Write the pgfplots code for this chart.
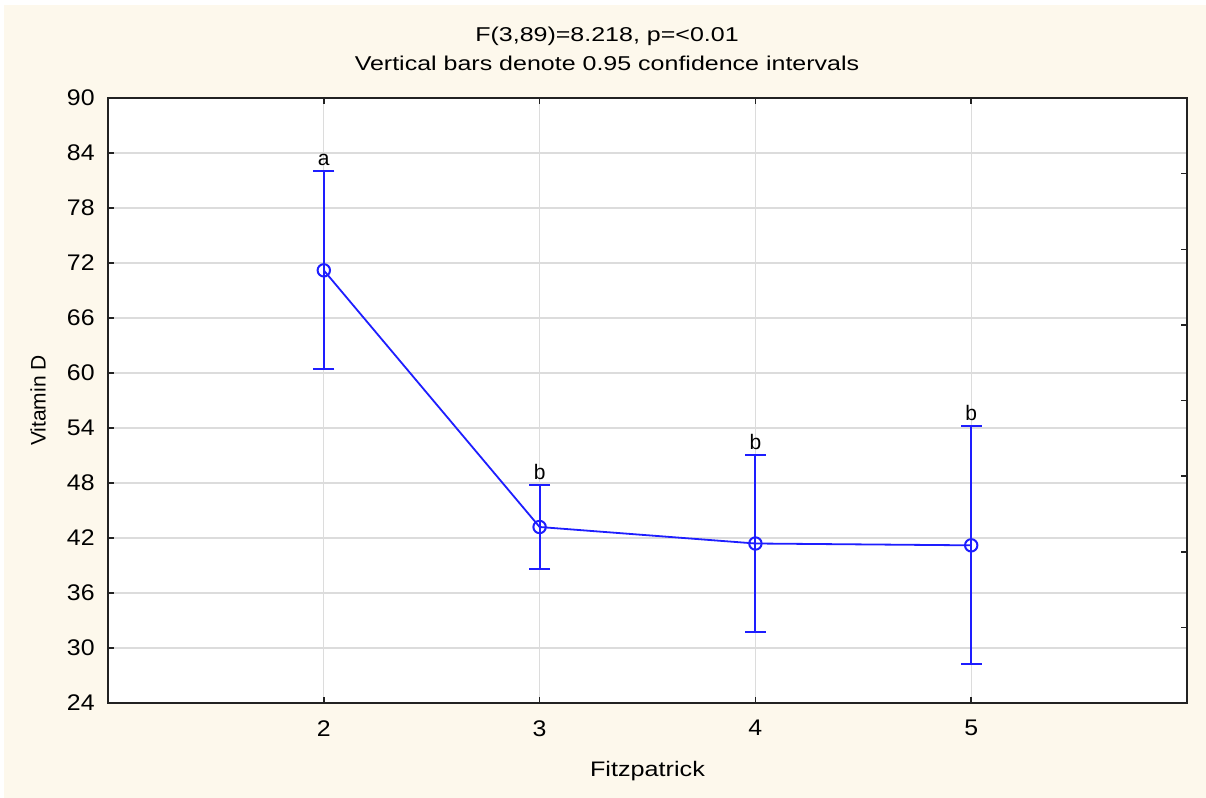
\documentclass[border=0pt]{standalone}
\usepackage{fontspec}
\setmainfont{Liberation Sans}
\newfontfamily\widefont[FakeStretch=1.25]{Liberation Sans}
\newfontfamily\tickfont[FakeStretch=1.1]{Liberation Sans}
\usepackage{graphicx}
\usepackage{pgfplots}
\pgfplotsset{compat=1.18}
\usepackage{pgfplotstable}
\definecolor{cream}{HTML}{FDF8EC}
\definecolor{gridgray}{HTML}{DCDCDC}
\definecolor{axisdark}{HTML}{222222}
\definecolor{vblue}{RGB}{30,30,255}

\pgfplotstableread{
x   y
2   71.2
3   43.2
4   41.4
5   41.2
}\means

% 95% confidence interval ends (nan separates the bars)
\pgfplotstableread{
x   y
2   60.4
2   82.0
2   nan
3   38.65
3   47.75
3   nan
4   31.75
4   51.05
4   nan
5   28.2
5   54.2
}\ci

\pgfplotstableread{
x   y      lab
2   82.0   a
3   47.75  b
4   51.05  b
5   54.2   b
}\letters

\begin{document}
\begin{tikzpicture}
% background
\fill[white] (-54pt,-47.5pt) rectangle (549pt,351.5pt);
\fill[cream] (-52pt,-47.5pt) rectangle (549pt,349pt);

\begin{axis}[
  at={(0pt,0pt)}, anchor=south west,
  scale only axis,
  width=539.5pt, height=302.5pt,
  xmin=1, xmax=6, ymin=24, ymax=90,
  xtick={2,3,4,5},
  ytick={24,30,...,90},
  xtick pos=both, ytick pos=left,
  tick align=inside,
  major tick length=3pt,
  tick style={axisdark, line width=0.75pt},
  axis line style={axisdark, line width=0.9pt},
  axis background/.style={fill=white},
  grid=major,
  grid style={gridgray, line width=0.65pt},
  /pgf/number format/assume math mode=true,
  tick label style={font=\tickfont\fontsize{11.3}{13}\selectfont},
  yticklabel style={anchor=east, inner sep=0pt, xshift=-6.5pt},
  xticklabel style={anchor=north, inner sep=0pt, yshift=-8.5pt},
  unbounded coords=jump,
  clip=false,
]
\addplot[vblue, line width=1pt, mark=-, mark size=5.25pt,
  mark options={vblue, line width=1pt}]
  table[x=x, y=y] {\ci};

\addplot[vblue, line width=0.9pt, mark=o, mark size=3.1pt,
  mark options={vblue, fill=white, line width=1pt}]
  table[x=x, y=y] {\means};

\addplot[draw=none, mark=none, nodes near coords, point meta=explicit symbolic,
  every node near coord/.style={anchor=base, inner sep=0pt, yshift=3pt,
    font=\fontsize{10.5}{12}\selectfont, text=black}]
  table[x=x, y=y, meta=lab] {\letters};
\end{axis}

% right-side ticks (own scale, 8 intervals)
\begin{axis}[
  at={(0pt,0pt)}, anchor=south west,
  scale only axis,
  width=539.5pt, height=302.5pt,
  xmin=0, xmax=1, ymin=0, ymax=8,
  axis x line=none,
  axis y line*=right,
  ytick={1,...,7},
  yticklabels={},
  tick align=inside,
  major tick length=3pt,
  tick style={axisdark, line width=0.75pt},
  axis line style={axisdark, line width=0.9pt, -},
]
\addplot[draw=none] coordinates {(0,0)};
\end{axis}

% titles and labels
\node[anchor=base, inner sep=0pt] at (249.5pt,330.5pt)
  {\widefont\fontsize{10}{12}\selectfont F(3,89)=8.218, p=<0.01};
\node[anchor=base, inner sep=0pt] at (249.5pt,316.25pt)
  {\widefont\fontsize{10}{12}\selectfont Vertical bars denote 0.95 confidence intervals};
\node[anchor=base, inner sep=0pt] at (269.75pt,-37pt)
  {\fontsize{10.5}{12}\selectfont\addfontfeature{FakeStretch=1.2}Fitzpatrick};
\node[rotate=90, inner sep=0pt] at (-35pt,151.25pt)
  {\fontsize{10.5}{12}\selectfont Vitamin D};
\end{tikzpicture}
\end{document}
